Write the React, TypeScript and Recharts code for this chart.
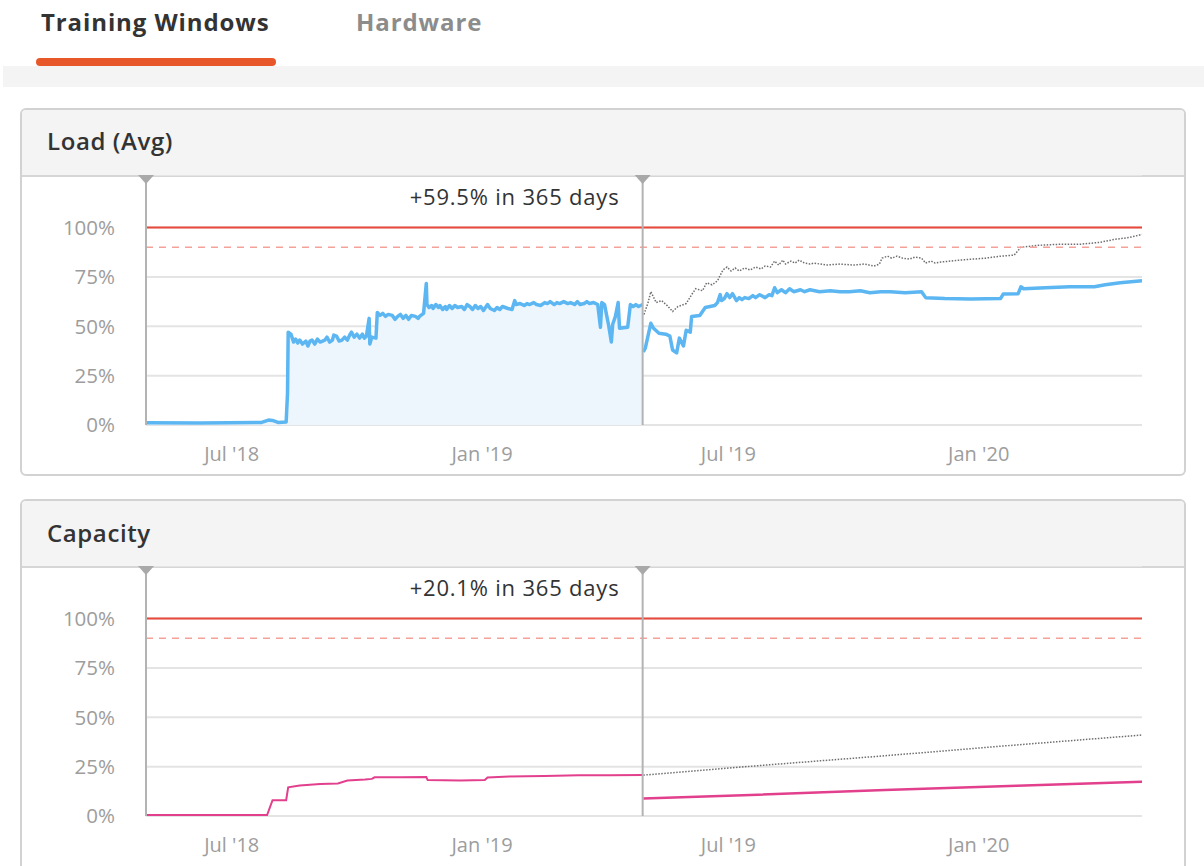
import React from "react";
import {
  ComposedChart,
  Area,
  Line,
  XAxis,
  YAxis,
  CartesianGrid,
  ReferenceLine,
} from "recharts";

// x values are days since 29 Apr 2018 (left edge of the window), y in %
const tickDays = [63, 247, 428, 612];
const tickLabels = ["Jul '18", "Jan '19", "Jul '19", "Jan '20"];
const pctTicks = [0, 25, 50, 75, 100];

// Load (Avg) - inside the 365 day window  [day, %]
const loadInWindow: [number, number][] = [
  [0, 1.2], [40, 1.0], [85, 1.3], [90, 2.5], [93, 2.3], [97, 1.3], [103, 1.5],
  [104, 16], [104.5, 47], [106.5, 46], [108.5, 42], [110, 43.5], [111.5, 41.5],
  [113, 43], [115, 41], [117.5, 42.5], [119, 40], [120.5, 42.5], [122, 43],
  [124, 41], [126, 43.5], [128, 42], [131.5, 43], [133, 44.5], [135, 42],
  [137, 43], [138, 45.5], [140, 45], [142, 42.5], [144, 43], [146, 44.5],
  [148, 43], [150, 46], [151, 47], [153, 44.5], [155, 46], [157, 44], [159, 46],
  [160.5, 44], [162, 45], [164, 54], [164.5, 41], [166, 44.5], [169, 44],
  [170, 57], [172, 55.5], [174, 56.5], [176, 55], [178, 56], [181, 55.5],
  [183, 53.5], [185, 55], [187, 56], [189, 54], [191, 55.5], [193, 53.5],
  [195, 55.5], [198, 55], [200, 54], [201, 55], [204, 56.5], [206, 71.7],
  [206.5, 61], [208, 59.5], [210, 60.5], [211, 59], [213, 61], [215, 59.5],
  [216, 60.5], [218, 58.5], [220, 60], [221, 58.5], [223, 60.5], [225, 59],
  [227, 60.5], [229, 59.5], [232, 60], [234, 58.5], [236, 61], [238, 60],
  [240, 58.5], [242, 60.5], [244, 59], [246, 60], [248, 58], [251, 61],
  [253, 59], [256, 58], [258, 59.5], [260, 58.5], [262, 60], [264, 59.5],
  [266, 59], [269, 58.5], [271, 63], [272, 61], [275, 61.5], [278, 60.5],
  [280, 61.5], [282, 61], [285, 62], [287, 61], [290, 60.5], [293, 62],
  [295, 61.5], [297, 62.5], [300, 61], [302, 62], [304, 61.5], [307, 62.5],
  [310, 61.5], [312, 62], [315, 61], [317, 62.5], [319, 61], [322, 61.5],
  [324, 62.5], [326, 61.5], [329, 62], [332, 61], [334, 49.5], [335, 62],
  [337, 61], [340, 50.5], [342, 42], [343, 51], [345, 55], [347, 62], [348, 49],
  [354, 49.5], [356, 61], [358, 60], [360, 61], [362, 60], [365, 61],
];

// Load (Avg) - after the window
const loadAfter: [number, number][] = [
  [365.5, 37], [367, 39], [371, 51.5], [373, 49], [377, 46.5], [382, 46],
  [385, 45], [387, 38], [390, 36.5], [392, 44], [395, 40], [397, 48], [400, 47],
  [401, 55], [407, 55.5], [411, 59.5], [418, 60.5], [420, 62], [422, 66],
  [423, 63], [425, 64], [427, 66.5], [429, 64.5], [431, 66.5], [434, 63],
  [436, 64.5], [438, 63.5], [440, 64.5], [443, 64], [446, 65.5], [448, 64.5],
  [451, 66], [455, 64.5], [458, 66], [460, 65.5], [462, 69.5], [464, 67],
  [467, 68.5], [470, 67], [473, 69], [476, 67.5], [481, 68.5], [484, 67.5],
  [488, 68.5], [495, 67.5], [503, 68], [510, 67.5], [517, 67.5], [525, 68],
  [532, 67], [540, 67.5], [547, 67.5], [558, 67], [570, 67.5], [573, 64.5],
  [587, 64], [606, 63.8], [628, 64], [630, 66.3], [641, 66.5], [643, 70],
  [645, 69], [661, 69.5], [679, 70], [697, 70], [705, 71], [716, 72], [732, 73],
];

// Load (Avg) - projection
const loadTrend: [number, number][] = [
  [366, 56], [369, 62], [371, 67.5], [375, 62], [379, 63], [383, 60.5],
  [387, 57.5], [391, 60], [397, 61.5], [401, 66], [404, 69], [409, 68], [412, 72],
  [416, 71], [420, 73], [424, 78.5], [427, 80], [430, 78], [433, 79.5],
  [436, 78], [440, 79.5], [444, 78.5], [448, 80], [452, 79], [455, 80.5],
  [459, 80], [462, 83], [465, 81], [468, 83.5], [470, 81.5], [474, 83], [477, 82],
  [480, 83.5], [484, 82], [488, 81.5], [491, 82], [500, 81], [510, 81.5],
  [520, 81], [528, 81.5], [535, 80.5], [539, 81.5], [541, 84.5], [545, 85.5],
  [548, 84.5], [552, 85.5], [556, 84.5], [561, 84], [565, 85], [570, 84.5],
  [573, 82], [577, 83], [580, 82], [584, 82.5], [598, 83.5], [617, 84.5],
  [628, 85.5], [638, 86], [643, 90], [656, 91], [671, 91.5], [686, 91.5],
  [701, 92.5], [712, 94], [723, 95], [732, 96.5],
];

// Capacity
const capInWindow: [number, number][] = [
  [0, 0.5], [89, 0.5], [93, 8], [103, 8], [104.5, 14.5], [113, 15.5],
  [128, 16.2], [141, 16.5], [148, 18], [161, 18.5], [166, 18.8], [168, 19.6],
  [187, 19.6], [206, 19.7], [207, 18.2], [231, 18], [249, 18.2], [251, 19.5],
  [267, 20], [293, 20.2], [318, 20.6], [341, 20.6], [365, 20.7],
];
const capAfter: [number, number][] = [
  [365.5, 8.9], [450, 10.8], [543, 13.2], [640, 15.3], [732, 17.4],
];
const capTrend: [number, number][] = [
  [365.5, 20.7], [450, 25.5], [543, 30.5], [640, 36], [732, 41],
];

const FONT = "'Open Sans', sans-serif";
const BLUE = "#5cb6f2";
const PINK = "#e23f8d";

function buildRows(series: Record<string, [number, number][]>) {
  const map = new Map<number, Record<string, number>>();
  Object.entries(series).forEach(([key, pts]) => {
    pts.forEach(([d, v]) => {
      const row = map.get(d) || { day: d };
      row[key] = v;
      map.set(d, row);
    });
  });
  return Array.from(map.values()).sort((a, b) => a.day - b.day);
}

const loadRows = buildRows({ a: loadInWindow, b: loadAfter, t: loadTrend });
const capRows = buildRows({ a: capInWindow, b: capAfter, t: capTrend });

const Marker = (props: any) => {
  const { viewBox, note } = props;
  if (!viewBox) return null;
  const x = viewBox.x;
  const y = viewBox.y;
  return (
    <g>
      <path d={`M${x - 8},${y} L${x + 8},${y} L${x},${y + 9} Z`} fill="#a9a9a9" />
      {note && (
        <text
          x={x - 233}
          y={y + 30}
          fontSize={22}
          letterSpacing={0.8}
          fill="#333"
          fontFamily={FONT}
        >
          {note}
        </text>
      )}
    </g>
  );
};

const Chart = ({ rows, color, fill, note }: any) => (
  <ComposedChart
    width={1162}
    height={300}
    data={rows}
    margin={{ top: 0, right: 41, bottom: 0, left: 0 }}
  >
    <CartesianGrid vertical={false} stroke="#e4e4e4" strokeWidth={2} />
    <XAxis
      dataKey="day"
      type="number"
      domain={[0, 732]}
      allowDataOverflow
      ticks={tickDays}
      tickFormatter={(v: number) => tickLabels[tickDays.indexOf(v)]}
      axisLine={false}
      tickLine={false}
      tickSize={0}
      tickMargin={22}
      height={50}
      tick={{ fill: "#9d9d9d", fontSize: 20, fontFamily: FONT }}
    />
    <YAxis
      type="number"
      domain={[0, 126.6]}
      allowDataOverflow
      ticks={pctTicks}
      tickFormatter={(v: number) => `${v}%`}
      axisLine={false}
      tickLine={false}
      tickSize={0}
      tickMargin={31}
      width={125}
      tick={{ fill: "#9d9d9d", fontSize: 20.5, fontFamily: FONT }}
    />
    {fill ? (
      <Area
        dataKey="a"
        type="linear"
        stroke={color}
        strokeWidth={3.5}
        strokeLinejoin="round"
        fill={fill}
        fillOpacity={1}
        connectNulls
        dot={false}
        activeDot={false}
        isAnimationActive={false}
      />
    ) : (
      <Line
        dataKey="a"
        type="linear"
        stroke={color}
        strokeWidth={2}
        connectNulls
        dot={false}
        activeDot={false}
        isAnimationActive={false}
      />
    )}
    <Line
      dataKey="b"
      type="linear"
      stroke={color}
      strokeWidth={fill ? 3.5 : 2.5}
      strokeLinejoin="round"
      connectNulls
      dot={false}
      activeDot={false}
      isAnimationActive={false}
    />
    <Line
      dataKey="t"
      type="linear"
      stroke="#6e6e6e"
      strokeWidth={1.5}
      strokeDasharray="1.5 1.5"
      connectNulls
      dot={false}
      activeDot={false}
      isAnimationActive={false}
    />
    <ReferenceLine y={100} stroke="#e8493b" strokeWidth={2} />
    <ReferenceLine y={90} stroke="#f4a199" strokeWidth={1.5} strokeDasharray="7 6" />
    <ReferenceLine x={0} stroke="#b3b3b3" strokeWidth={2} label={<Marker />} />
    <ReferenceLine x={365} stroke="#b3b3b3" strokeWidth={2} label={<Marker note={note} />} />
  </ComposedChart>
);

const panelStyle: React.CSSProperties = {
  position: "absolute",
  left: 20,
  width: 1166,
  border: "2px solid #d2d2d2",
  borderRadius: 6,
  boxSizing: "border-box",
  background: "#fff",
  overflow: "hidden",
};
const headStyle: React.CSSProperties = {
  height: 65,
  background: "#f4f4f4",
  borderBottom: "2px solid #d6d6d6",
  boxSizing: "content-box",
};
const titleStyle: React.CSSProperties = {
  position: "absolute",
  left: 25,
  fontSize: 24,
  lineHeight: "24px",
  fontWeight: 600,
  letterSpacing: 0.6,
  color: "#333",
};
const tabStyle: React.CSSProperties = {
  position: "absolute",
  top: 10,
  fontSize: 24,
  lineHeight: "24px",
  fontWeight: 700,
  letterSpacing: 0.9,
};

export default function App() {
  return (
    <div
      style={{
        position: "absolute",
        left: 0,
        top: 0,
        width: 1204,
        height: 866,
        overflow: "hidden",
        background: "#fff",
        fontFamily: FONT,
      }}
    >
      <div style={{ ...tabStyle, left: 41, color: "#333" }}>Training Windows</div>
      <div style={{ ...tabStyle, left: 356, color: "#8c8c8c" }}>Hardware</div>
      <div
        style={{
          position: "absolute",
          left: 36,
          top: 58,
          width: 240,
          height: 8,
          borderRadius: 4,
          background: "#e8572a",
        }}
      />
      <div
        style={{
          position: "absolute",
          left: 3,
          top: 66,
          width: 1201,
          height: 21,
          background: "#f4f4f4",
        }}
      />

      <div style={{ ...panelStyle, top: 108, height: 368 }}>
        <div style={headStyle} />
        <div style={{ ...titleStyle, top: 19 }}>Load (Avg)</div>
      </div>
      <div style={{ ...panelStyle, top: 499, height: 420 }}>
        <div style={headStyle} />
        <div style={{ ...titleStyle, top: 20 }}>Capacity</div>
      </div>

      <div style={{ position: "absolute", left: 21, top: 175 }}>
        <Chart rows={loadRows} color={BLUE} fill="#edf5fd" note="+59.5% in 365 days" />
      </div>
      <div style={{ position: "absolute", left: 21, top: 566 }}>
        <Chart rows={capRows} color={PINK} note="+20.1% in 365 days" />
      </div>
    </div>
  );
}
